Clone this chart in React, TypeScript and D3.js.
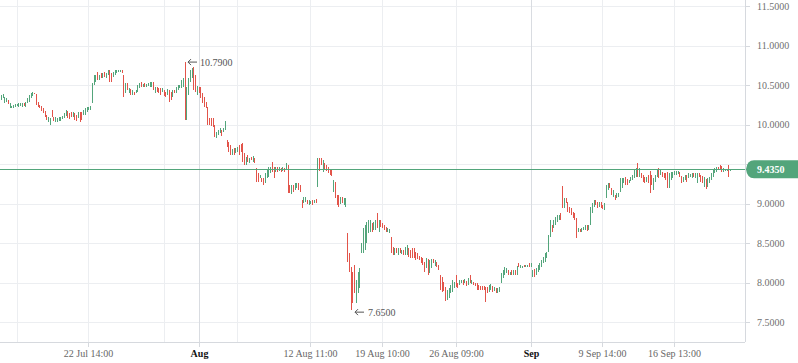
import * as d3 from 'd3';

// candle opens / closes (one thin bar per candle)
const opens = [
  10.31, 10.34, 10.27, 10.29, 10.31, 10.21, 10.21, 10.21, 10.22, 10.23,
  10.22, 10.23, 10.22, 10.27, 10.22, 10.27, 10.29, 10.34, 10.36, 10.40,
  10.39, 10.28, 10.25, 10.23, 10.21, 10.17, 10.12, 10.03, 9.99, 10.18,
  10.10, 10.03, 10.03, 10.04, 10.05, 10.07, 10.08, 10.11, 10.17, 10.15,
  10.16, 10.10, 10.15, 10.12, 10.08, 10.16, 10.16, 10.12, 10.12, 10.16,
  10.18, 10.18, 10.27, 10.50, 10.54, 10.67, 10.56, 10.65, 10.59, 10.67,
  10.59, 10.63, 10.69, 10.65, 10.60, 10.63, 10.65, 10.67, 10.67, 10.69,
  10.63,
  10.40, 10.53, 10.40, 10.45, 10.37, 10.41, 10.40, 10.41, 10.46, 10.54,
  10.47, 10.53, 10.47, 10.49, 10.47, 10.48, 10.54, 10.40, 10.47, 10.46,
  10.46, 10.41, 10.44, 10.41, 10.37, 10.44, 10.41, 10.35, 10.44, 10.40,
  10.44, 10.46, 10.46, 10.47,
  10.79, 10.06, 10.37, 10.54, 10.59, 10.73, 10.63, 10.37, 10.48, 10.48,
  10.40, 10.35, 10.29, 10.22, 10.08, 10.08, 10.08, 9.99, 9.83, 9.87,
  9.89, 9.93, 9.91, 9.93, 9.80, 9.78, 9.74, 9.61, 9.70, 9.64,
  9.65, 9.74, 9.75, 9.77, 9.64, 9.49, 9.61, 9.51, 9.59, 9.53,
  9.58, 9.45, 9.39, 9.32, 9.32, 9.32, 9.26, 9.32, 9.34, 9.39,
  9.53, 9.46, 9.40, 9.46, 9.41, 9.45, 9.41, 9.45, 9.42, 9.49,
  9.23, 9.12, 9.23, 9.17, 9.20, 9.26, 9.23, 9.04, 9.01, 9.02,
  9.04, 8.98, 8.99, 9.04, 9.01, 9.06, 9.21, 9.58, 9.58, 9.40,
  9.51, 9.49, 9.46, 9.42, 9.42, 9.15, 9.27, 9.11, 9.11, 8.99,
  9.08, 8.98, 8.96,
  8.63, 8.37, 8.20, 8.13, 8.22, 7.74, 7.87, 7.93, 8.37, 8.37,
  8.41, 8.50, 8.63, 8.64, 8.75, 8.66, 8.66, 8.88, 8.64, 8.79,
  8.75, 8.73, 8.70, 8.64, 8.63, 8.58, 8.45, 8.35, 8.44, 8.35,
  8.44, 8.36, 8.41, 8.35, 8.35, 8.44, 8.41, 8.44, 8.44, 8.39,
  8.37, 8.34, 8.32, 8.31, 8.26, 8.18, 8.30, 8.12, 8.18, 8.30,
  8.21, 8.26, 8.22, 8.09, 8.07, 8.01, 7.94, 7.78, 7.80, 7.87,
  7.88, 7.93, 8.09, 7.99, 7.97, 7.99, 8.03, 7.99, 8.02, 7.97,
  8.09, 7.98, 8.01, 7.99, 7.99, 7.97, 7.96, 7.96, 7.96, 7.94,
  7.94, 7.88, 7.91, 7.96, 7.89, 7.93, 7.87, 7.88, 7.99, 8.06,
  8.09, 8.12, 8.16, 8.09, 8.16, 8.09, 8.16, 8.09, 8.25, 8.18,
  8.18, 8.22, 8.20, 8.20, 8.25, 8.20, 8.07, 8.17, 8.09, 8.13,
  8.16, 8.20, 8.25, 8.26, 8.31, 8.39, 8.58,
  8.73, 8.69, 8.73, 8.77, 8.79, 8.88, 9.22, 8.94, 9.07, 9.02,
  8.96, 8.94, 8.89, 8.88, 8.82, 8.64, 8.68, 8.64, 8.66, 8.66,
  8.73, 8.66, 8.73, 8.88, 8.96, 9.04, 9.02, 8.96, 9.02, 8.98,
  8.92, 9.07, 9.17, 9.26, 9.20, 9.08, 9.11, 9.07, 9.08, 9.15,
  9.20, 9.26, 9.34, 9.31, 9.26, 9.28, 9.30, 9.32, 9.34, 9.51,
  9.34, 9.39, 9.36, 9.34, 9.27, 9.36, 9.41, 9.36, 9.17, 9.27,
  9.34, 9.45, 9.36, 9.40, 9.39, 9.39, 9.40, 9.19, 9.30, 9.32,
  9.36, 9.36, 9.37, 9.40, 9.35, 9.27, 9.30, 9.36, 9.32, 9.34,
  9.32, 9.39, 9.32, 9.26, 9.39, 9.36, 9.35, 9.21, 9.31, 9.21,
  9.26, 9.30, 9.34, 9.39, 9.40, 9.46, 9.49, 9.47, 9.40, 9.41,
  9.42, 9.49, 9.41,
];

const closes = [
  10.37, 10.39, 10.35, 10.34, 10.26, 10.27, 10.23, 10.25, 10.26, 10.26,
  10.27, 10.27, 10.27, 10.23, 10.29, 10.34, 10.37, 10.40, 10.41, 10.39,
  10.25, 10.22, 10.21, 10.17, 10.15, 10.10, 10.06, 10.10, 10.08, 10.10,
  10.04, 10.10, 10.08, 10.09, 10.10, 10.11, 10.15, 10.18, 10.08, 10.07,
  10.10, 10.16, 10.06, 10.04, 10.16, 10.03, 10.06, 10.18, 10.21, 10.22,
  10.22, 10.23, 10.53, 10.63, 10.63, 10.56, 10.63, 10.59, 10.65, 10.60,
  10.65, 10.69, 10.54, 10.54, 10.67, 10.69, 10.69, 10.69, 10.69, 10.65,
  10.35,
  10.53, 10.44, 10.46, 10.37, 10.44, 10.37, 10.44, 10.50, 10.53, 10.47,
  10.51, 10.47, 10.51, 10.53, 10.54, 10.54, 10.44, 10.47, 10.41, 10.40,
  10.37, 10.46, 10.36, 10.35, 10.45, 10.29, 10.31, 10.44, 10.40, 10.47,
  10.50, 10.50, 10.56, 10.59,
  10.06, 10.48, 10.59, 10.69, 10.72, 10.44, 10.41, 10.49, 10.40, 10.34,
  10.27, 10.22, 10.21, 9.99, 9.99, 9.98, 9.97, 9.84, 9.91, 9.93,
  9.95, 9.85, 9.95, 10.04, 9.72, 9.65, 9.61, 9.69, 9.61, 9.70,
  9.72, 9.61, 9.65, 9.53, 9.49, 9.59, 9.53, 9.58, 9.55, 9.60,
  9.51, 9.27, 9.27, 9.36, 9.27, 9.23, 9.39, 9.42, 9.46, 9.46,
  9.40, 9.32, 9.46, 9.40, 9.46, 9.40, 9.46, 9.40, 9.51, 9.13,
  9.13, 9.23, 9.15, 9.26, 9.26, 9.17, 9.15, 8.94, 9.08, 9.08,
  8.99, 9.04, 9.03, 8.98, 9.04, 9.01, 9.58, 9.41, 9.49, 9.55,
  9.44, 9.41, 9.39, 9.36, 9.35, 9.30, 9.07, 8.98, 8.96, 9.08,
  9.01, 9.07, 9.07,
  8.26, 8.13, 7.65, 7.74, 7.87, 8.03, 8.13, 8.18, 8.50, 8.69,
  8.73, 8.77, 8.79, 8.79, 8.64, 8.77, 8.79, 8.69, 8.79, 8.70,
  8.69, 8.66, 8.64, 8.69, 8.68, 8.37, 8.35, 8.44, 8.37, 8.44,
  8.37, 8.41, 8.35, 8.45, 8.47, 8.32, 8.31, 8.31, 8.31, 8.28,
  8.30, 8.28, 8.25, 8.22, 8.13, 8.31, 8.09, 8.28, 8.30, 8.25,
  8.28, 8.20, 8.16, 7.91, 7.88, 7.89, 7.77, 7.91, 7.93, 7.97,
  8.03, 8.01, 7.94, 7.93, 8.03, 8.03, 7.97, 8.04, 7.96, 8.06,
  7.99, 8.03, 7.97, 7.96, 7.91, 7.91, 7.91, 7.91, 7.91, 7.75,
  7.87, 7.97, 7.98, 7.88, 7.94, 7.87, 7.93, 7.94, 8.12, 8.16,
  8.20, 8.18, 8.09, 8.13, 8.09, 8.16, 8.09, 8.21, 8.20, 8.22,
  8.21, 8.20, 8.22, 8.22, 8.20, 8.25, 8.16, 8.07, 8.18, 8.22,
  8.25, 8.28, 8.32, 8.37, 8.39, 8.60, 8.79,
  8.64, 8.79, 8.83, 8.85, 8.85, 8.79, 8.94, 9.07, 9.01, 8.89,
  8.88, 8.85, 8.82, 8.79, 8.56, 8.69, 8.64, 8.69, 8.70, 8.73,
  8.65, 8.73, 8.96, 9.01, 9.04, 8.98, 8.94, 9.02, 8.94, 8.93,
  9.01, 9.23, 9.26, 9.20, 9.11, 9.17, 9.04, 9.13, 9.13, 9.32,
  9.32, 9.32, 9.23, 9.23, 9.30, 9.34, 9.36, 9.42, 9.45, 9.34,
  9.45, 9.32, 9.27, 9.26, 9.34, 9.26, 9.13, 9.23, 9.32, 9.36,
  9.42, 9.32, 9.42, 9.34, 9.32, 9.30, 9.20, 9.39, 9.40, 9.40,
  9.41, 9.41, 9.41, 9.34, 9.26, 9.34, 9.36, 9.27, 9.39, 9.37,
  9.39, 9.34, 9.39, 9.39, 9.34, 9.27, 9.26, 9.34, 9.18, 9.32,
  9.34, 9.39, 9.42, 9.45, 9.46, 9.42, 9.42, 9.40, 9.45, 9.44,
  9.43, 9.34, 9.435,
];

const yTicks = [7.5, 8, 8.5, 9, 9.5, 10, 10.5, 11, 11.5];
// candle index of each vertical grid line, and its label ('' = grid line only)
const xTickIdx = [9, 50, 93, 113, 135, 177, 218, 260, 303, 344, 385];
const xTickLabels = ['', '22 Jul 14:00', '', 'Aug', '', '12 Aug 11:00', '19 Aug 10:00', '26 Aug 09:00', 'Sep', '9 Sep 14:00', '16 Sep 13:00'];
const monthLabels = ['Aug', 'Sep'];

const UP = '#53a57b';
const DOWN = '#e2544a';
const FONT = "'Liberation Serif', 'Times New Roman', serif";

export default function App() {
  const W = 798;
  const H = 363;
  const plotRight = 745;
  const plotBottom = 342;
  const n = Math.min(opens.length, closes.length);

  const x = d3.scaleLinear().domain([0, n - 1]).range([1, 730]);
  const y = d3.scaleLinear().domain([7.5, 11.5]).range([322, 6]);
  const fmt = d3.format('.4f');

  const idx = d3.range(n);
  const hiIdx = d3.maxIndex(idx, i => Math.max(opens[i], closes[i]));
  const loIdx = d3.minIndex(idx, i => Math.min(opens[i], closes[i]));
  const hiVal = Math.max(opens[hiIdx], closes[hiIdx]);
  const loVal = Math.min(opens[loIdx], closes[loIdx]);
  const last = closes[n - 1];
  const lastY = y(last);

  const hx = Math.round(x(hiIdx));
  const hy = y(hiVal);
  const lx = Math.round(x(loIdx));
  const ly = y(loVal) + 2;

  return (
    <svg width={W} height={H} style={{ position: 'absolute', left: 0, top: 0, background: '#fff' }} fontFamily={FONT}>
      {/* horizontal grid */}
      {yTicks.map(t => (
        <line key={'hg' + t} x1={0} x2={plotRight} y1={Math.round(y(t)) + 0.5} y2={Math.round(y(t)) + 0.5} stroke="#eceef1" />
      ))}
      {/* vertical grid */}
      {xTickIdx.map((t, i) => {
        const px = Math.round(x(t)) + 0.5;
        const month = monthLabels.includes(xTickLabels[i]);
        return <line key={'vg' + t} x1={px} x2={px} y1={0} y2={plotBottom} stroke={month ? '#d9dce1' : '#eceef1'} />;
      })}

      {/* axes */}
      <line x1={0} x2={plotRight} y1={plotBottom + 0.5} y2={plotBottom + 0.5} stroke="#d6d9de" />
      <line x1={plotRight + 0.5} x2={plotRight + 0.5} y1={0} y2={plotBottom} stroke="#d6d9de" />
      {yTicks.map(t => (
        <g key={'yt' + t}>
          <line x1={plotRight} x2={plotRight + 5} y1={Math.round(y(t)) + 0.5} y2={Math.round(y(t)) + 0.5} stroke="#d6d9de" />
          {/* label hidden where the last-price badge sits on it */}
          {Math.abs(y(t) - lastY) > 12 && (
            <text x={757} y={y(t)} dy="0.35em" fontSize={10} fill="#707070">{fmt(t)}</text>
          )}
        </g>
      ))}
      {xTickIdx.map((t, i) => {
        const label = xTickLabels[i];
        if (!label) return null;
        const px = Math.round(x(t)) + 0.5;
        const month = monthLabels.includes(label);
        return (
          <g key={'xt' + t}>
            <line x1={px} x2={px} y1={plotBottom} y2={plotBottom + 5} stroke="#d6d9de" />
            <text x={px} y={357} textAnchor="middle" fontSize={10} fill={month ? '#111' : '#666'} fontWeight={month ? 'bold' : 'normal'}>{label}</text>
          </g>
        );
      })}

      {/* candles */}
      <g shapeRendering="crispEdges">
        {idx.map(i => {
          const o = opens[i];
          const c = closes[i];
          const top = y(Math.max(o, c));
          const h = Math.max(1, Math.abs(y(o) - y(c)));
          return <rect key={i} x={Math.round(x(i))} y={top} width={1} height={h} fill={c >= o ? UP : DOWN} />;
        })}
      </g>

      {/* last price line + badge */}
      <line x1={0} x2={plotRight} y1={Math.round(lastY) + 0.5} y2={Math.round(lastY) + 0.5} stroke={UP} />
      <path d={`M746,${lastY} Q747,${lastY - 9} 754,${lastY - 9} H${W} V${lastY + 9} H754 Q747,${lastY + 9} 746,${lastY} Z`} fill={UP} />
      <text x={757} y={lastY} dy="0.35em" fontSize={10} fontWeight="bold" fill="#fff">{fmt(last)}</text>

      {/* high / low markers */}
      <g stroke="#555" strokeWidth={1} fill="none">
        <path d={`M${hx + 12},${hy} H${hx + 3} M${hx + 6},${hy - 3} L${hx + 3},${hy} L${hx + 6},${hy + 3}`} />
        <path d={`M${lx + 13},${ly} H${lx + 4} M${lx + 7},${ly - 3} L${lx + 4},${ly} L${lx + 7},${ly + 3}`} />
      </g>
      <text x={hx + 15} y={hy} dy="0.35em" fontSize={10} fill="#555">{fmt(hiVal)}</text>
      <text x={lx + 17} y={ly} dy="0.35em" fontSize={10} fill="#555">{fmt(loVal)}</text>
    </svg>
  );
}
